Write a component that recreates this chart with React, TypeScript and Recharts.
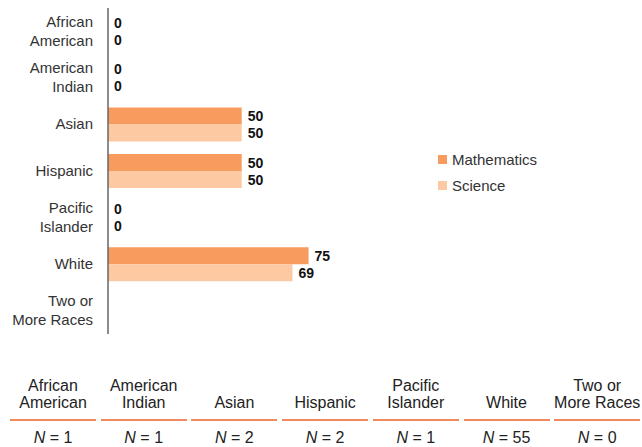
import { BarChart, Bar, XAxis, YAxis, Legend, LabelList } from 'recharts';

const categories = ['African\nAmerican', 'American\nIndian', 'Asian', 'Hispanic', 'Pacific\nIslander', 'White', 'Two or\nMore Races'];
const mathValues = [0, 0, 50, 50, 0, 75, null];
const scienceValues = [0, 0, 50, 50, 0, 69, null];
const nCounts = [1, 1, 2, 2, 1, 55, 0];

const series = [
  { dataKey: 'math', nombre: 'Mathematics', color: '#F89B5E' },
  { dataKey: 'science', nombre: 'Science', color: '#FDC9A3' },
];

const data = categories.map((c, i) => ({ cat: c, math: mathValues[i], science: scienceValues[i] }));

const FONT = '"Liberation Sans", Arial, sans-serif';

function CategoryTick({ x, y, payload }: any) {
  const lines = String(payload.value).split('\n');
  const lh = 19;
  return (
    <text x={x} y={y} textAnchor="end" fill="#333" fontSize={15} fontFamily={FONT}>
      {lines.map((l, i) => (
        <tspan key={i} x={x} dy={i === 0 ? -((lines.length - 1) * lh) / 2 + 5 : lh}>{l}</tspan>
      ))}
    </text>
  );
}

function LegendBox({ payload }: any) {
  return (
    <div style={{ fontFamily: FONT }}>
      {(payload || []).map((p: any) => (
        <div key={p.value} style={{ display: 'flex', alignItems: 'center', height: 26 }}>
          <span style={{ width: 9, height: 9, background: p.color, marginRight: 5 }} />
          <span style={{ fontSize: 15, color: '#333' }}>{p.value}</span>
        </div>
      ))}
    </div>
  );
}

// draws the value even when the bar has zero length
function ValueLabel({ x, y, width, height, value }: any) {
  if (value === null || value === undefined) return null;
  return (
    <text
      x={Number(x) + Number(width) + 6}
      y={Number(y) + Number(height) / 2}
      dy="0.36em"
      fill="#111"
      fontSize={14}
      fontWeight="bold"
      fontFamily={FONT}
    >
      {value}
    </text>
  );
}

export default function App() {
  return (
    <div style={{ width: 642, height: 447, padding: '8px 0 0 8px', boxSizing: 'border-box', overflow: 'hidden' }}>
      <style>{'body { margin: 0; }'}</style>
      <div style={{ position: 'relative', width: 634, height: 439, fontFamily: FONT }}>
        <BarChart
          width={634}
          height={326}
          data={data}
          layout="vertical"
          margin={{ top: 0, right: 266.6, left: 0, bottom: 0 }}
          barCategoryGap={6.3}
          barGap={0}
        >
          <XAxis type="number" domain={[0, 100]} hide />
          <YAxis
            type="category"
            dataKey="cat"
            width={100}
            tickLine={false}
            tickSize={0}
            tickMargin={15}
            axisLine={{ stroke: '#666', strokeWidth: 1.5 }}
            tick={<CategoryTick />}
            interval={0}
          />
          <Legend
            layout="horizontal"
            verticalAlign="middle"
            align="center"
            content={<LegendBox />}
            wrapperStyle={{ left: 430, top: 138, width: 'auto' }}
          />
          {series.map(s => (
            <Bar
              key={s.dataKey}
              dataKey={s.dataKey}
              name={s.nombre}
              fill={s.color}
              minPointSize={0.01}
              isAnimationActive={false}
            >
              <LabelList dataKey={s.dataKey} content={<ValueLabel />} />
            </Bar>
          ))}
        </BarChart>
        {categories.map((c, i) => (
          <div key={c} style={{ position: 'absolute', left: 2 + i * 90.7, top: 369, width: 86, color: '#222' }}>
            <div
              style={{
                height: 34,
                display: 'flex',
                flexDirection: 'column',
                justifyContent: 'flex-end',
                alignItems: 'center',
                fontSize: 16,
                lineHeight: '17px',
                whiteSpace: 'nowrap',
              }}
            >
              {c.split('\n').map(l => <div key={l}>{l}</div>)}
            </div>
            <div style={{ height: 2, background: '#F0895E', marginTop: 8 }} />
            <div style={{ textAlign: 'center', fontSize: 16, lineHeight: '18px', marginTop: 8, whiteSpace: 'nowrap' }}>
              <i>N</i> = {nCounts[i]}
            </div>
          </div>
        ))}
      </div>
    </div>
  );
}
